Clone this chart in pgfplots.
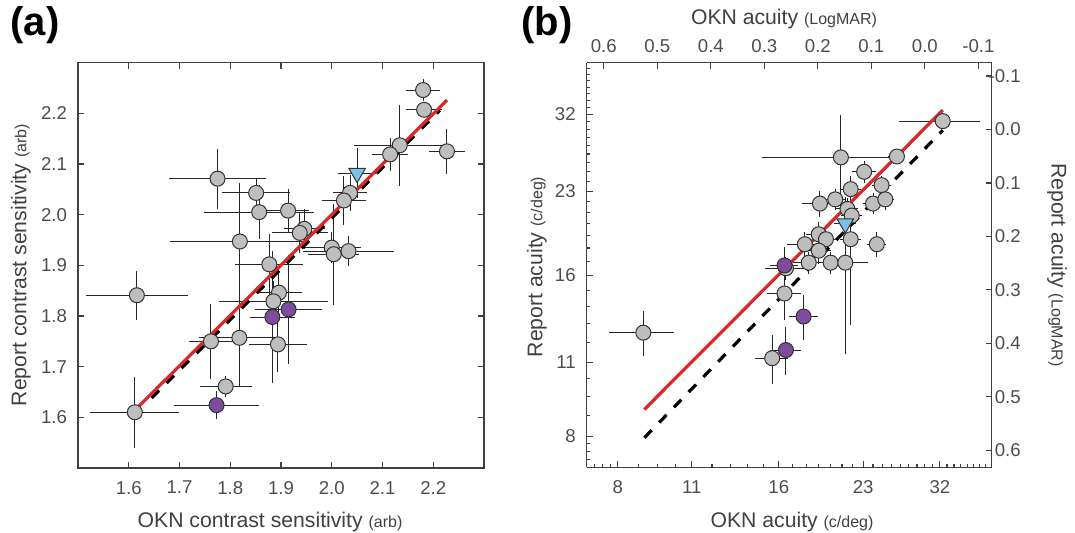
\documentclass[border=0pt]{standalone}
\usepackage{pgfplots}
\usepackage{pgfplotstable}
\pgfplotsset{compat=1.18}
\usepackage{fontspec}
\setmainfont{Liberation Sans}

\definecolor{ptgray}{HTML}{BEBEBE}
\definecolor{ptpurple}{HTML}{7D4BA0}
\definecolor{ptblue}{HTML}{78C3EB}
\definecolor{fitred}{HTML}{D7282A}
\definecolor{axgray}{HTML}{404040}
\definecolor{lblgray}{HTML}{404040}
\definecolor{tickgray}{HTML}{4D4D4D}

% ---------- (a) contrast sensitivity: x y x-error y-error ----------
\pgfplotstableread{
x y ex ey
2.180 2.246 0.033 0.022
2.182 2.207 0.035 0.015
2.134 2.137 0.090 0.080
2.115 2.119 0.036 0.033
2.227 2.125 0.036 0.045
2.036 2.043 0.034 0.035
2.024 2.028 0.043 0.048
1.775 2.071 0.095 0.059
1.851 2.043 0.067 0.030
1.857 2.005 0.108 0.053
1.914 2.008 0.041 0.043
1.946 1.972 0.040 0.040
1.937 1.964 0.055 0.040
1.819 1.947 0.138 0.116
2.000 1.935 0.058 0.030
2.004 1.922 0.050 0.100
2.033 1.928 0.090 0.030
1.877 1.902 0.067 0.060
1.896 1.846 0.045 0.040
1.885 1.829 0.107 0.040
1.762 1.750 0.043 0.074
1.818 1.757 0.079 0.095
1.894 1.744 0.058 0.054
1.791 1.661 0.051 0.021
1.616 1.841 0.100 0.048
1.612 1.610 0.088 0.070
}\csGray
\pgfplotstableread{
x y ex ey
1.883 1.798 0.044 0.130
1.915 1.813 0.066 0.107
1.773 1.624 0.083 0.028
}\csPurple
\pgfplotstableread{
x y ex ey
2.050 2.082 0.038 0.050
}\csBlue

% ---------- (b) acuity in c/deg: x y x-error y-error ----------
\pgfplotstableread{
x y ex ey
32.4 31.1 5.6 0.8
20.9 26.6 6.0 5.3
26.6 26.7 1.0 0.8
23.1 25.0 1.2 1.2
24.9 23.6 1.0 1.0
21.8 23.2 1.0 1.3
19.1 21.8 1.4 1.2
20.4 22.2 1.0 1.0
24.0 21.8 1.0 1.0
25.3 22.2 1.0 1.0
21.5 21.3 1.0 1.0
21.9 20.7 1.0 1.0
19.0 19.1 1.0 1.0
19.6 18.7 1.0 1.0
17.9 18.3 1.3 1.0
21.8 18.7 1.0 5.8
24.4 18.3 1.0 1.0
19.0 17.8 1.0 1.0
18.2 16.9 2.0 0.8
20.0 16.9 1.0 0.8
21.3 16.9 2.2 5.5
16.5 16.5 1.4 0.8
16.4 14.8 1.2 1.6
15.55 11.2 1.1 1.2
8.93 12.5 1.24 1.2
}\acGray
\pgfplotstableread{
x y ex ey
16.4 16.7 1.0 1.4
17.8 13.4 1.1 1.3
16.5 11.6 1.1 1.2
}\acPurple
\pgfplotstableread{
x y ex ey
21.3 20.0 1.0 2.0
}\acBlue

\pgfplotsset{
  panel/.style={
    scale only axis,
    anchor=south west,
    tick align=inside,
    major tick length=3pt,
    minor tick length=1.6pt,
    axis line style={draw=axgray, line width=0.6pt},
    every tick/.style={draw=axgray, line width=0.6pt},
    tick label style={font=\fontsize{9.3}{11}\selectfont, text=tickgray},
    clip=false,
  },
  errs/.style={
    only marks, mark=none, forget plot,
    error bars/.cd, x dir=both, x explicit, y dir=both, y explicit,
    error mark=none,
    error bar style={draw=black!85, solid, line width=0.5pt},
  },
  grayPt/.style={only marks, mark=*, mark size=3.75pt,
    mark options={fill=ptgray, draw=black!80, line width=0.5pt}},
  purplePt/.style={only marks, mark=*, mark size=3.75pt,
    mark options={fill=ptpurple, draw=black!80, line width=0.5pt}},
  bluePt/.style={only marks, mark=triangle*, mark size=4.8pt,
    mark options={fill=ptblue, draw=black!80, line width=0.5pt, rotate=180}},
  fitline/.style={fitred, line width=1.6pt, mark=none},
  unityline/.style={black, line width=1.6pt, dash pattern=on 5.3pt off 5.3pt, mark=none},
}

\newcommand{\lbl}{\fontsize{10.6}{12}\selectfont}
\newcommand{\unit}{\fontsize{8}{9}\selectfont}

\begin{document}
\begin{tikzpicture}
\path[use as bounding box] (0,0) rectangle (537.5pt,266.5pt);

% ===== panel (a) =====
\begin{axis}[panel,
  at={(39pt,32.5pt)}, width=203pt, height=202.65pt,
  xmin=1.5, xmax=2.3, ymin=1.5, ymax=2.3,
  xtick={1.6,1.7,1.8,1.9,2.0,2.1,2.2},
  xticklabels={1.6,1.7,1.8,1.9,2.0,2.1,2.2},
  ytick={1.6,1.7,1.8,1.9,2.0,2.1,2.2},
  yticklabels={1.6,1.7,1.8,1.9,2.0,2.1,2.2},
  xticklabel style={yshift=-3pt},
  yticklabel style={xshift=-2pt},
]
\addplot[errs] table[x=x, y=y, x error=ex, y error=ey] {\csGray};
\addplot[errs] table[x=x, y=y, x error=ex, y error=ey] {\csPurple};
\addplot[errs] table[x=x, y=y, x error=ex, y error=ey] {\csBlue};
\addplot[unityline] coordinates {(1.645,1.638) (2.213,2.206)};
\addplot[fitline] coordinates {(1.620,1.622) (2.227,2.226)};
\addplot[grayPt] table[x=x, y=y] {\csGray};
\addplot[purplePt] table[x=x, y=y] {\csPurple};
\addplot[bluePt] table[x=x, y=y] {\csBlue};
\end{axis}

% ===== panel (b): c/deg on bottom and left (log) =====
\begin{axis}[panel,
  at={(293.35pt,32.85pt)}, width=202.5pt, height=202.3pt,
  xmode=log, ymode=log,
  xmin=7, xmax=40, ymin=7, ymax=40,
  axis x line*=bottom, axis y line*=left,
  xtick={8,11,16,23,32}, xticklabels={8,11,16,23,32},
  ytick={8,11,16,23,32}, yticklabels={8,11,16,23,32},
  minor xtick={7.25,7.5,7.75,8.75,9.5,10.25,12,13,14,15,17,18,19,20,21,22,24,25,26,27,28,29,30,31,33,34,35,36,37,38,39,40},
  minor ytick={7.25,7.5,7.75,8.75,9.5,10.25,12,13,14,15,17,18,19,20,21,22,24,25,26,27,28,29,30,31,33,34,35,36,37,38,39,40},
  xticklabel style={yshift=-3pt},
  yticklabel style={xshift=-2pt},
]
\addplot[errs] table[x=x, y=y, x error=ex, y error=ey] {\acGray};
\addplot[errs] table[x=x, y=y, x error=ex, y error=ey] {\acPurple};
\addplot[errs] table[x=x, y=y, x error=ex, y error=ey] {\acBlue};
\addplot[unityline] coordinates {(8.97,7.95) (32.4,29.9)};
\addplot[fitline] coordinates {(8.97,8.98) (32.4,32.6)};
\addplot[grayPt] table[x=x, y=y] {\acGray};
\addplot[purplePt] table[x=x, y=y] {\acPurple};
\addplot[bluePt] table[x=x, y=y] {\acBlue};
\addplot[fitred, line width=0.4pt, mark=none] coordinates {(8.97,8.98) (32.4,32.6)};
\end{axis}

% ===== panel (b): LogMAR on top and right =====
\begin{axis}[panel,
  at={(293.35pt,32.85pt)}, width=202.5pt, height=202.3pt,
  xmin=-0.1249, xmax=0.6320, ymin=-0.1249, ymax=0.6320,
  x dir=reverse, y dir=reverse,
  axis x line*=top, axis y line*=right,
  xtick={-0.1,0,0.1,0.2,0.3,0.4,0.5,0.6},
  xticklabels={-0.1,0.0,0.1,0.2,0.3,0.4,0.5,0.6},
  ytick={-0.1,0,0.1,0.2,0.3,0.4,0.5,0.6},
  yticklabels={-0.1,0.0,0.1,0.2,0.3,0.4,0.5,0.6},
  xticklabel style={yshift=1.5pt},
  yticklabel style={anchor=east, xshift=18pt},
]
\end{axis}

% panel letters and axis titles
\node[font=\bfseries\fontsize{20}{24}\selectfont] at (17.5pt,254pt) {(a)};
\node[font=\bfseries\fontsize{20}{24}\selectfont] at (273.5pt,254pt) {(b)};

\node[text=lblgray, font=\lbl] at (135pt,5.5pt) {OKN contrast sensitivity {\unit(arb)}};
\node[text=lblgray, font=\lbl, rotate=90] at (10.5pt,134pt) {Report contrast sensitivity {\unit(arb)}};

\node[text=lblgray, font=\lbl] at (396pt,5.5pt) {OKN acuity {\unit(c/deg)}};
\node[text=lblgray, font=\lbl] at (392pt,257pt) {OKN acuity {\unit(LogMAR)}};
\node[text=lblgray, font=\lbl, rotate=90] at (268.5pt,133pt) {Report acuity {\unit(c/deg)}};
\node[text=lblgray, font=\lbl, rotate=-90] at (528.5pt,134pt) {Report acuity {\unit(LogMAR)}};
\end{tikzpicture}
\end{document}
